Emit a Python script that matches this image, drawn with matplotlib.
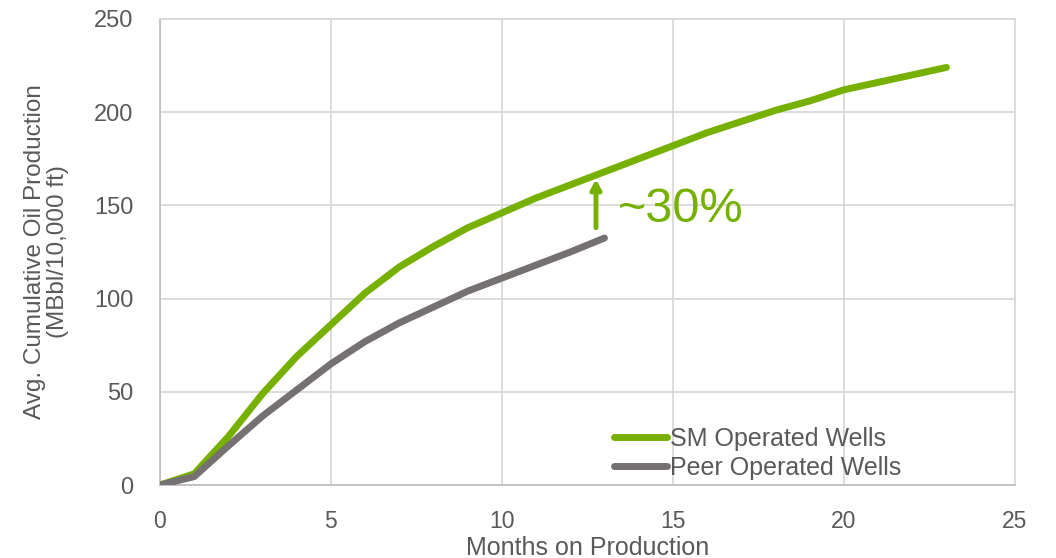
import matplotlib
matplotlib.use("Agg")
import matplotlib.pyplot as plt

months_sm = list(range(0, 24))
sm_wells = [0, 6, 26, 49, 69, 86, 103, 117, 128, 138, 146, 154, 161, 168, 175, 182,
            189, 195, 201, 206, 212, 216, 220, 224]
months_peer = list(range(0, 14))
peer_wells = [0, 4.5, 21, 37, 51, 65, 77, 87, 95.5, 104, 111, 118, 125, 132.5]

series_labels = ["SM Operated Wells", "Peer Operated Wells"]
x_ticks = [0, 5, 10, 15, 20, 25]
y_ticks = [0, 50, 100, 150, 200, 250]
uplift_label = "~30%"

GREEN = "#76B000"
GREY = "#767171"
TEXT = "#595959"
GRID = "#D9D9D9"

plt.rcParams["font.family"] = ["Liberation Sans", "DejaVu Sans"]

fig = plt.figure(figsize=(10.56, 5.58), dpi=100)
ax = fig.add_axes([0.1515, 0.1308, 0.961 - 0.1515, 0.966 - 0.1308])

ax.plot(months_sm, sm_wells, color=GREEN, lw=5, solid_capstyle="round",
        solid_joinstyle="round", label=series_labels[0], zorder=3)
ax.plot(months_peer, peer_wells, color=GREY, lw=5, solid_capstyle="round",
        solid_joinstyle="round", label=series_labels[1], zorder=3)

ax.set_xlim(0, 25)
ax.set_ylim(0, 250)
ax.set_xticks(x_ticks)
ax.set_yticks(y_ticks)
ax.grid(True, color=GRID, lw=1.3, zorder=0)
ax.tick_params(axis="both", length=0, colors=TEXT)
ax.tick_params(axis="x", pad=18, labelsize=16.5)
ax.tick_params(axis="y", pad=19, labelsize=17)

for side in ("top", "right"):
    ax.spines[side].set_color(GRID)
    ax.spines[side].set_linewidth(1.3)
for side in ("left", "bottom"):
    ax.spines[side].set_color("#BFBFBF")
    ax.spines[side].set_linewidth(1.3)

ax.set_xlabel("Months on Production", color=TEXT, fontsize=18, labelpad=2)
ax.set_ylabel("Avg. Cumulative Oil Production\n(MBbl/10,000 ft)", color=TEXT,
              fontsize=17.5, labelpad=18, linespacing=1.05)

# uplift annotation between the two curves
ax.annotate("", xy=(12.75, 164), xytext=(12.75, 138),
            arrowprops=dict(arrowstyle="-|>,head_length=0.55,head_width=0.3",
                            color=GREEN, lw=3.5, shrinkA=0, shrinkB=0), zorder=4)
ax.text(13.4, 148, uplift_label, color=GREEN, fontsize=35, va="center", ha="left")

leg = ax.legend(loc="lower left", bbox_to_anchor=(0.505, -0.037), frameon=False,
                fontsize=18, handlelength=2.1, handletextpad=0.15,
                labelspacing=0.2, labelcolor=TEXT)

fig.savefig("out.png", dpi=100, facecolor="white")
